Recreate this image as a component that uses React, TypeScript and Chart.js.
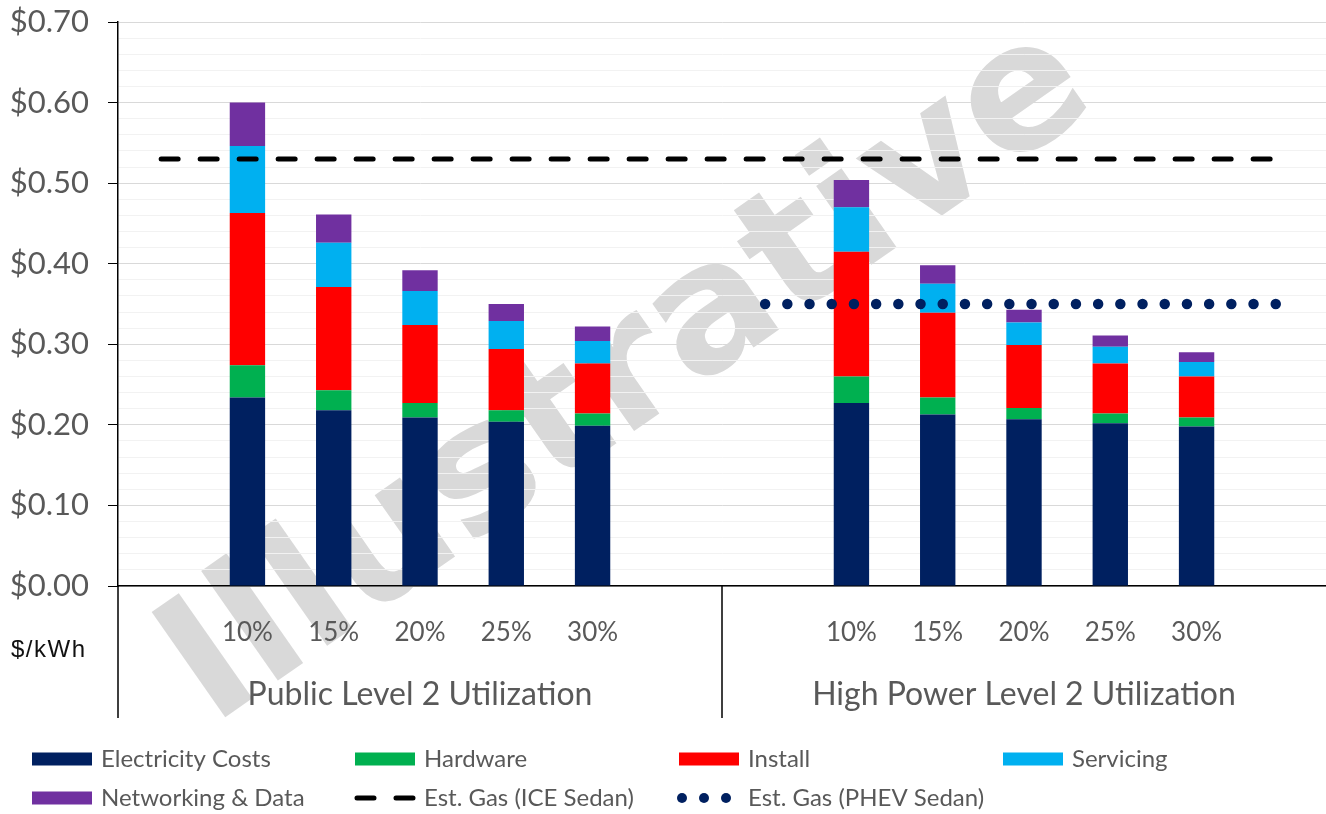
import React, { useEffect, useRef } from 'react';
import { Chart, registerables } from 'chart.js';

Chart.register(...registerables);

// Category slots: an empty slot pads each end of both utilization groups
const categories = ['', '10%', '15%', '20%', '25%', '30%', '', '', '10%', '15%', '20%', '25%', '30%', ''];
const groups = ['Public Level 2 Utilization', 'High Power Level 2 Utilization'];

// Cost components, $/kWh
const electricity = [null, 0.234, 0.218, 0.209, 0.204, 0.199, null, null, 0.227, 0.213, 0.207, 0.202, 0.198, null];
const hardware = [null, 0.040, 0.025, 0.018, 0.014, 0.015, null, null, 0.033, 0.021, 0.014, 0.012, 0.011, null];
const install = [null, 0.189, 0.128, 0.097, 0.076, 0.062, null, null, 0.155, 0.105, 0.078, 0.062, 0.051, null];
const servicing = [null, 0.083, 0.055, 0.042, 0.035, 0.028, null, null, 0.055, 0.036, 0.028, 0.021, 0.018, null];
const networking = [null, 0.054, 0.035, 0.026, 0.021, 0.018, null, null, 0.034, 0.023, 0.016, 0.014, 0.012, null];

// Gasoline equivalents, $/kWh
const iceGas = [0.53, 0.53, 0.53, 0.53, 0.53, 0.53, 0.53, 0.53, 0.53, 0.53, 0.53, 0.53, 0.53, 0.53];
const phevGas = [null, null, null, null, null, null, null, 0.35, 0.35, 0.35, 0.35, 0.35, 0.35, 0.35];

const yTicksMax = 0.7;
const yStep = 0.02;

const FONT = 'Lato, "Open Sans", sans-serif';
const GREY = '#595959';

const ICE_DASH = [17, 22];
const PHEV_DASH = [0, 22.2];

const isMajor = (v: number) => Math.round(v * 100) % 10 === 0;

const decorPlugin = {
  id: 'decor',
  beforeDraw(chart: any) {
    // diagonal watermark, underneath grid and bars
    const ctx = chart.ctx;
    ctx.save();
    ctx.translate(630, 378);
    ctx.rotate((-35 * Math.PI) / 180);
    ctx.font = 'bold 176px "DejaVu Sans", Verdana, sans-serif';
    ctx.fillStyle = '#D9D9D9';
    ctx.textAlign = 'center';
    ctx.textBaseline = 'middle';
    ctx.fillText('Illustrative', 0, 0);
    ctx.restore();
  },
  afterDraw(chart: any) {
    const ctx = chart.ctx;
    const x = chart.scales.x;
    const area = chart.chartArea;
    const half = (x.getPixelForValue(1) - x.getPixelForValue(0)) / 2;
    const split = (x.getPixelForValue(6) + x.getPixelForValue(7)) / 2;
    const bottom = 718;

    ctx.save();
    // group separators of the two-level category axis
    ctx.strokeStyle = '#000';
    ctx.lineWidth = 1.5;
    ctx.beginPath();
    ctx.moveTo(area.left, area.bottom);
    ctx.lineTo(area.left, bottom);
    ctx.moveTo(split, area.bottom);
    ctx.lineTo(split, bottom);
    ctx.stroke();

    // group labels
    ctx.font = `32px ${FONT}`;
    ctx.fillStyle = GREY;
    ctx.textAlign = 'center';
    ctx.textBaseline = 'middle';
    const g1 = (x.getPixelForValue(0) - half + split) / 2;
    const g2 = (split + x.getPixelForValue(13) + half) / 2;
    ctx.fillText(groups[0], g1, 695);
    ctx.fillText(groups[1], g2, 695);

    // unit label
    ctx.font = '24px "Liberation Sans", Arial, sans-serif';
    ctx.fillStyle = '#111';
    ctx.textAlign = 'left';
    (ctx as any).letterSpacing = '1.5px';
    ctx.fillText('$/kWh', 11, 650);
    (ctx as any).letterSpacing = '0px';

    // legend, four fixed columns
    const cols = [32, 355, 679, 1003];
    const rows = [759, 798];
    chart.data.datasets.forEach((ds: any, i: number) => {
      const cx = cols[i % 4];
      const cy = rows[Math.floor(i / 4)];
      if (ds.type === 'line') {
        ctx.strokeStyle = ds.borderColor;
        ctx.lineWidth = ds.borderWidth;
        ctx.lineCap = 'round';
        if (ds.stack === 'ice') {
          ctx.setLineDash(ICE_DASH);
          ctx.beginPath();
          ctx.moveTo(cx + 2, cy);
          ctx.lineTo(cx + 60, cy);
          ctx.stroke();
          ctx.setLineDash([]);
        } else {
          ctx.fillStyle = ds.borderColor;
          for (let k = 0; k < 3; k++) {
            ctx.beginPath();
            ctx.arc(cx + 3 + k * 22, cy, 5, 0, Math.PI * 2);
            ctx.fill();
          }
        }
      } else {
        ctx.fillStyle = ds.backgroundColor;
        ctx.fillRect(cx, cy - 6.5, 60, 13);
      }
      ctx.font = `24px ${FONT}`;
      ctx.fillStyle = GREY;
      ctx.textAlign = 'left';
      ctx.textBaseline = 'middle';
      ctx.fillText(ds.label, cx + 69, cy);
    });
    ctx.restore();
  },
};

export default function App() {
  const ref = useRef<HTMLCanvasElement | null>(null);

  useEffect(() => {
    if (!ref.current) return;
    const bar = (label: string, data: (number | null)[], color: string) => ({
      type: 'bar' as const,
      label,
      data,
      backgroundColor: color,
      borderWidth: 0,
      order: 1,
      stack: 'costs',
      barPercentage: 0.41,
      categoryPercentage: 1.0,
    });
    const chart = new Chart(ref.current, {
      data: {
        labels: categories,
        datasets: [
          bar('Electricity Costs', electricity, '#002060'),
          bar('Hardware', hardware, '#00B050'),
          bar('Install', install, '#FF0000'),
          bar('Servicing', servicing, '#00B0F0'),
          bar('Networking & Data', networking, '#7030A0'),
          {
            type: 'line' as const,
            label: 'Est. Gas (ICE Sedan)',
            data: iceGas,
            borderColor: '#000000',
            backgroundColor: '#000000',
            borderWidth: 5,
            borderDash: ICE_DASH,
            borderCapStyle: 'round',
            pointRadius: 0,
            order: 0,
            stack: 'ice',
          },
          {
            type: 'line' as const,
            label: 'Est. Gas (PHEV Sedan)',
            data: phevGas,
            borderColor: '#002060',
            backgroundColor: '#002060',
            borderWidth: 10.5,
            borderDash: PHEV_DASH,
            borderCapStyle: 'round',
            pointRadius: 0,
            order: 0,
            stack: 'phev',
          },
        ] as any,
      },
      options: {
        animation: false,
        responsive: false,
        layout: { padding: { top: 22, left: 0, right: 0, bottom: 0 } },
        plugins: {
          legend: { display: false },
          tooltip: { enabled: false },
        },
        scales: {
          x: {
            type: 'category',
            stacked: true,
            offset: true,
            grid: { display: false },
            border: { display: true, color: '#000', width: 1.5 },
            ticks: {
              color: GREY,
              font: { family: FONT, size: 26 },
              padding: 23,
              autoSkip: false,
              maxRotation: 0,
            },
            afterFit: (s: any) => {
              s.height = 228;
              s.paddingLeft = 0;
              s.paddingRight = 0;
            },
          },
          y: {
            stacked: true,
            min: 0,
            max: yTicksMax,
            grid: {
              color: (c: any) => (isMajor(c.tick.value) ? '#D9D9D9' : '#F2F2F2'),
              tickColor: (c: any) => (isMajor(c.tick.value) ? '#000' : 'rgba(0,0,0,0)'),
              tickLength: 10,
              lineWidth: 1,
            },
            border: { display: true, color: '#000', width: 1.5 },
            ticks: {
              stepSize: yStep,
              autoSkip: false,
              color: GREY,
              padding: 19,
              font: { family: FONT, size: 31 },
              callback: (v: any) => {
                const c = Math.round(Number(v) * 100);
                return c % 10 === 0 ? '$' + (c / 100).toFixed(2) : '';
              },
            },
            afterFit: (s: any) => {
              s.width = 118;
              s.paddingTop = 0;
              s.paddingBottom = 0;
            },
          },
        },
      },
      plugins: [decorPlugin],
    } as any);
    return () => chart.destroy();
  }, []);

  return (
    <div style={{ position: 'fixed', left: 0, top: 0, width: 1326, height: 814, background: '#fff' }}>
      <canvas ref={ref} width={1326} height={814} style={{ display: 'block' }} />
    </div>
  );
}
